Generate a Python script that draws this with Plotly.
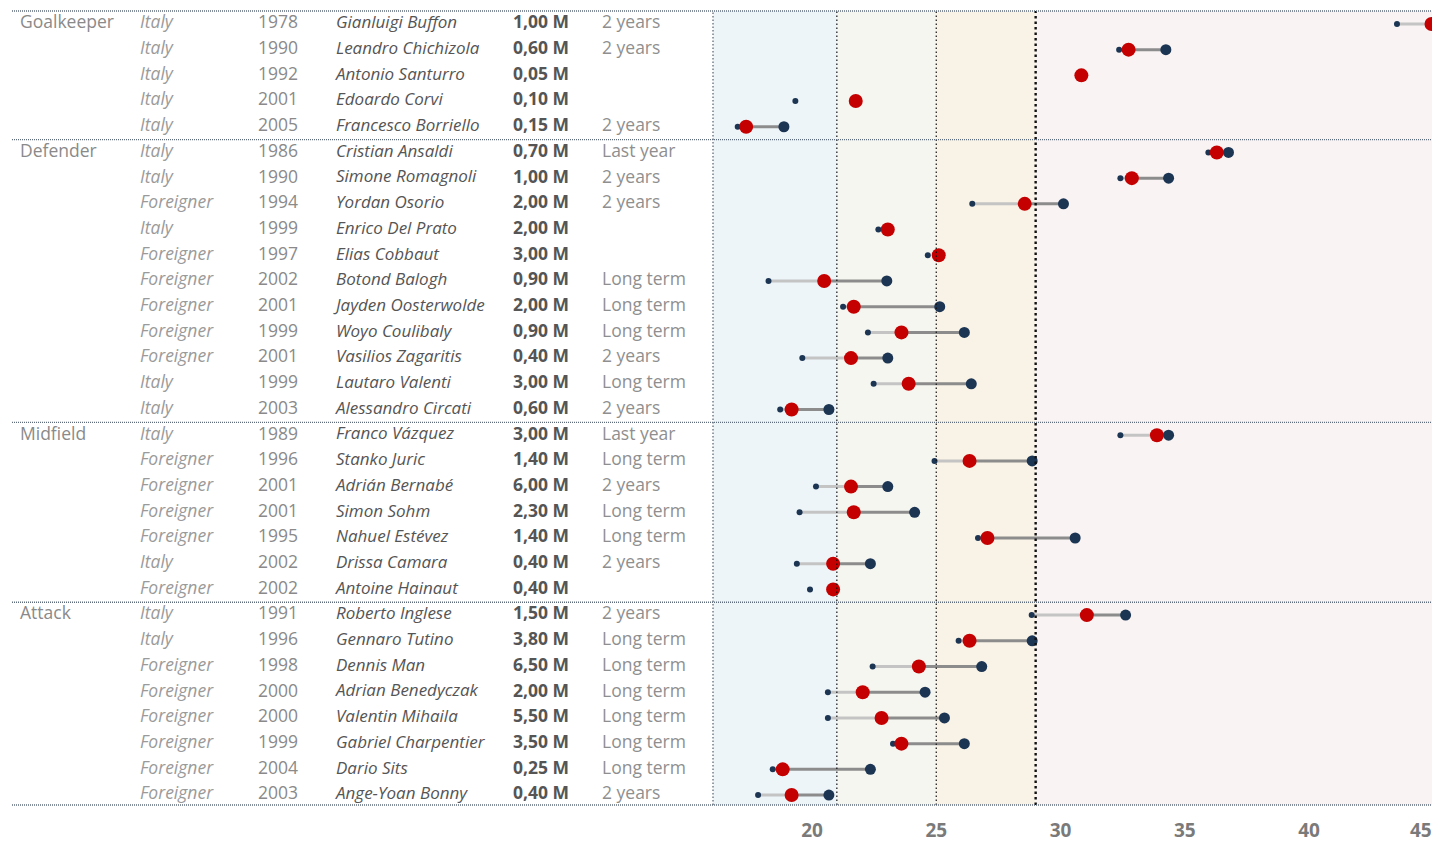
import plotly.graph_objects as go

# ---------------- data ----------------
positions = ["Goalkeeper"] * 5 + ["Defender"] * 11 + ["Midfield"] * 7 + ["Attack"] * 8
nationality = [
    "Italy", "Italy", "Italy", "Italy", "Italy",
    "Italy", "Italy", "Foreigner", "Italy", "Foreigner", "Foreigner", "Foreigner",
    "Foreigner", "Foreigner", "Italy", "Italy",
    "Italy", "Foreigner", "Foreigner", "Foreigner", "Foreigner", "Italy", "Foreigner",
    "Italy", "Italy", "Foreigner", "Foreigner", "Foreigner", "Foreigner", "Foreigner", "Foreigner",
]
birth_year = [
    1978, 1990, 1992, 2001, 2005,
    1986, 1990, 1994, 1999, 1997, 2002, 2001, 1999, 2001, 1999, 2003,
    1989, 1996, 2001, 2001, 1995, 2002, 2002,
    1991, 1996, 1998, 2000, 2000, 1999, 2004, 2003,
]
players = [
    "Gianluigi Buffon", "Leandro Chichizola", "Antonio Santurro", "Edoardo Corvi", "Francesco Borriello",
    "Cristian Ansaldi", "Simone Romagnoli", "Yordan Osorio", "Enrico Del Prato", "Elias Cobbaut",
    "Botond Balogh", "Jayden Oosterwolde", "Woyo Coulibaly", "Vasilios Zagaritis", "Lautaro Valenti",
    "Alessandro Circati",
    "Franco Vázquez", "Stanko Juric", "Adrián Bernabé", "Simon Sohm", "Nahuel Estévez",
    "Drissa Camara", "Antoine Hainaut",
    "Roberto Inglese", "Gennaro Tutino", "Dennis Man", "Adrian Benedyczak", "Valentin Mihaila",
    "Gabriel Charpentier", "Dario Sits", "Ange-Yoan Bonny",
]
salary = [
    "1,00 M", "0,60 M", "0,05 M", "0,10 M", "0,15 M",
    "0,70 M", "1,00 M", "2,00 M", "2,00 M", "3,00 M", "0,90 M", "2,00 M", "0,90 M", "0,40 M",
    "3,00 M", "0,60 M",
    "3,00 M", "1,40 M", "6,00 M", "2,30 M", "1,40 M", "0,40 M", "0,40 M",
    "1,50 M", "3,80 M", "6,50 M", "2,00 M", "5,50 M", "3,50 M", "0,25 M", "0,40 M",
]
contract = [
    "2 years", "2 years", "", "", "2 years",
    "Last year", "2 years", "2 years", "", "", "Long term", "Long term", "Long term", "2 years",
    "Long term", "2 years",
    "Last year", "Long term", "2 years", "Long term", "Long term", "2 years", "",
    "2 years", "Long term", "Long term", "Long term", "Long term", "Long term", "Long term", "2 years",
]
# ages: when joining (small dot), today (red dot), at end of contract (big dot)
age_joined = [
    43.54, 32.36, None, 19.33, 17.01,
    35.95, 32.41, 26.45, 22.67, 24.66, 18.25, 21.25, 22.25, 19.61, 22.48, 18.72,
    32.41, 24.93, 20.16, 19.50, 26.68, 19.39, 19.92,
    28.84, 25.90, 22.44, 20.64, 20.64, 23.26, 18.42, 17.83,
]
age_now = [
    44.93, 32.74, 30.84, 21.76, 17.35,
    36.29, 32.87, 28.56, 23.05, 25.10, 20.49, 21.68, 23.60, 21.57, 23.89, 19.18,
    33.88, 26.34, 21.57, 21.68, 27.06, 20.85, 20.85,
    31.06, 26.34, 24.30, 22.04, 22.80, 23.60, 18.82, 19.18,
]
age_end = [
    46.40, 34.24, None, None, 18.87,
    36.76, 34.35, 30.12, None, None, 23.01, 25.14, 26.13, 23.05, 26.41, 20.68,
    34.35, 28.86, 23.05, 24.13, 30.59, 22.35, None,
    32.62, 28.86, 26.83, 24.55, 25.33, 26.13, 22.35, 20.68,
]
age_tick_values = [20, 25, 30, 35, 40]
age_edge_tick = 45
age_bands = [(15.0, 21, "#EEF5F9"), (21, 25, "#F6F6F0"), (25, 29, "#F9F2E6"), (29, 47, "#F9F3F3")]
age_thresholds = [21, 25, 29]

# ---------------- layout constants (page pixels; the page body adds an 8px offset) ----------------
OFF = 8
PAGE_W, PAGE_H = 1440, 843
W, H = PAGE_W - OFF, PAGE_H - OFF
CHART_LEFT = 713 - OFF
TOP, BOTTOM, ROW_PX, ROW0 = 11 - OFF, 808 - OFF, 25.8, 24 - OFF
TICK20_X, PX_PER_YEAR = 812 - OFF, 24.85
SEP_LEFT = 12 - OFF

rows = list(range(len(players)))
group_label = [p if i == 0 or positions[i - 1] != p else "" for i, p in enumerate(positions)]
group_breaks = [i - 0.5 for i in range(1, len(positions)) if positions[i] != positions[i - 1]]

FONT = "Open Sans"
fig = go.Figure()

# ---------------- table columns ----------------
columns = [
    (20 - OFF, group_label, dict(color="#8a8a8a", size=17.5, family=FONT)),
    (140 - OFF, nationality, dict(color="#9a9a9a", size=17.5, family=FONT, style="italic")),
    (258 - OFF, [str(y) for y in birth_year], dict(color="#8a8a8a", size=17.5, family=FONT)),
    (336 - OFF, players, dict(color="#555555", size=17, family=FONT, style="italic")),
    (513 - OFF, salary, dict(color="#555555", size=17.5, family=FONT, weight="bold")),
    (602 - OFF, contract, dict(color="#8f8f8f", size=17.5, family=FONT)),
]
for xpos, texts, font in columns:
    fig.add_trace(go.Scatter(
        x=[xpos] * len(texts), y=rows, text=texts, mode="text",
        textposition="middle right", textfont=font,
        xaxis="x2", yaxis="y", hoverinfo="skip", showlegend=False,
    ))

# ---------------- segments ----------------
lx, ly, dx, dy = [], [], [], []
for i in rows:
    if age_end[i] is None:
        continue
    if age_joined[i] is not None:
        lx += [age_joined[i], age_now[i], None]
        ly += [i, i, None]
    dx += [age_now[i], age_end[i], None]
    dy += [i, i, None]
fig.add_trace(go.Scatter(x=lx, y=ly, mode="lines", line=dict(color="#c4c4c4", width=3),
                         hoverinfo="skip", showlegend=False))
fig.add_trace(go.Scatter(x=dx, y=dy, mode="lines", line=dict(color="#8c8c8c", width=3),
                         hoverinfo="skip", showlegend=False))

# ---------------- dots ----------------
fig.add_trace(go.Scatter(x=age_joined, y=rows, mode="markers",
                         marker=dict(color="#1c3553", size=6, line=dict(width=0)),
                         showlegend=False, hoverinfo="skip"))
fig.add_trace(go.Scatter(x=age_end, y=rows, mode="markers",
                         marker=dict(color="#1c3553", size=11, line=dict(width=0)),
                         showlegend=False, hoverinfo="skip"))
fig.add_trace(go.Scatter(x=age_now, y=rows, mode="markers",
                         marker=dict(color="#c40000", size=14, line=dict(width=0)),
                         showlegend=False, hoverinfo="skip"))

# ---------------- shapes ----------------
shapes = []
for x0, x1, col in age_bands:
    shapes.append(dict(type="rect", xref="x", yref="paper", x0=x0, x1=x1, y0=0, y1=1,
                       fillcolor=col, line=dict(width=0), layer="below"))
for t in age_thresholds:
    thick = t == 29
    shapes.append(dict(type="line", xref="x", yref="paper", x0=t, x1=t, y0=0, y1=1,
                       line=dict(color="#111111", width=2.4 if thick else 1.2,
                                 dash="2.5px,3px" if thick else "1.5px,2.5px"),
                       layer="above"))
# chart left border
shapes.append(dict(type="line", xref="paper", yref="paper", x0=CHART_LEFT / W, x1=CHART_LEFT / W,
                   y0=0, y1=1, line=dict(color="#55606e", width=1.2, dash="1.5px,2px"), layer="above"))
sep_style = dict(color="#5f6c7c", width=1.3, dash="1px,1px")
for yb in group_breaks:
    shapes.append(dict(type="line", xref="paper", yref="y", x0=SEP_LEFT / W, x1=1, y0=yb, y1=yb,
                       line=sep_style, layer="above"))
for yp in (0, 1):
    shapes.append(dict(type="line", xref="paper", yref="paper", x0=SEP_LEFT / W, x1=1, y0=yp, y1=yp,
                       line=sep_style, layer="above"))

y_top = -(ROW0 - TOP) / ROW_PX
y_bottom = y_top + (BOTTOM - TOP) / ROW_PX
x_min = 20 - (TICK20_X - CHART_LEFT) / PX_PER_YEAR
x_max = 20 + (W - TICK20_X) / PX_PER_YEAR

tick_font = dict(family=FONT, size=19, color="#7a7a7a", weight="bold")

# the last tick sits at the window's right edge: label it just left of its tick so it stays whole
edge_label = dict(x=age_edge_tick, xref="x", y=0, yref="paper", text=str(age_edge_tick),
                  xanchor="right", yanchor="top", yshift=-11, showarrow=False,
                  font=tick_font, borderpad=0)

fig.update_layout(
    width=W, height=H,
    margin=dict(l=0, r=0, t=TOP, b=H - BOTTOM, pad=0),
    paper_bgcolor="white", plot_bgcolor="rgba(0,0,0,0)",
    shapes=shapes,
    annotations=[edge_label],
    xaxis=dict(domain=[CHART_LEFT / W, 1], range=[x_min, x_max], tickvals=age_tick_values,
               showgrid=False, zeroline=False, showline=False, ticks="",
               ticklabelstandoff=12, tickfont=tick_font, fixedrange=True),
    xaxis2=dict(domain=[0, CHART_LEFT / W], range=[0, CHART_LEFT], visible=False,
                anchor="y", fixedrange=True),
    yaxis=dict(range=[y_bottom, y_top], visible=False, fixedrange=True),
)

fig.write_html("out.html")
